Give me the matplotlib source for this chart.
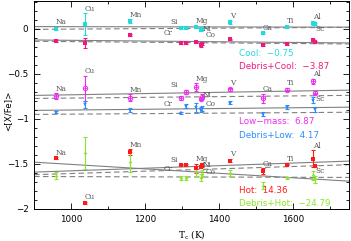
import numpy as np
import matplotlib
matplotlib.use('Agg')
import matplotlib.pyplot as plt
from matplotlib.ticker import MultipleLocator, FuncFormatter

# condensation temperatures (K) and element names
elements = ['Na', 'Cu', 'Mn', 'Cr', 'Si', 'Mg', 'Co', 'Ni', 'V', 'Ca', 'Ti', 'Al', 'Sc']
tc = [958, 1037, 1158, 1296, 1310, 1336, 1352, 1353, 1429, 1517, 1582, 1653, 1659]

cool = [0.00, 0.05, 0.085, 0.01, 0.01, 0.02, -0.02, 0.00, 0.07, -0.05, 0.02, 0.06, 0.05]
cool_err = [0.02, 0.12, 0.02, 0.01, 0.01, 0.01, 0.01, 0.01, 0.02, 0.01, 0.01, 0.02, 0.01]
debris_cool = [-0.137, -0.16, -0.07, -0.16, -0.155, -0.15, -0.18, -0.17, -0.12, -0.185, -0.17, -0.125, -0.15]
debris_cool_err = [0.01, 0.06, 0.01, 0.01, 0.01, 0.01, 0.02, 0.01, 0.01, 0.01, 0.01, 0.01, 0.01]

low = [-0.748, -0.663, -0.767, -0.77, -0.70, -0.648, -0.775, -0.755, -0.673, -0.773, -0.677, -0.585, -0.71]
low_err = [0.03, 0.14, 0.04, 0.02, 0.02, 0.04, 0.02, 0.03, 0.02, 0.05, 0.02, 0.03, 0.02]
debris_low = [-0.925, -0.84, -0.903, -0.933, -0.86, -0.87, -0.90, -0.885, -0.82, -0.944, -0.87, -0.79, -0.895]
debris_low_err = [0.01, 0.04, 0.02, 0.01, 0.02, 0.05, 0.03, 0.03, 0.02, 0.02, 0.02, 0.03, 0.03]

hot = [-1.437, -1.93, -1.367, -1.507, -1.515, -1.546, -1.53, -1.518, -1.463, -1.58, -1.507, -1.445, -1.526]
hot_err = [0.01, 0.01, 0.03, 0.01, 0.01, 0.05, 0.01, 0.02, 0.02, 0.03, 0.01, 0.095, 0.01]
debris_hot = [-1.63, -1.378, -1.478, -1.66, -1.655, -1.59, -1.655, -1.61, -1.60, -1.74, -1.655, -1.625, -1.67]
debris_hot_err = [0.04, 0.18, 0.11, 0.02, 0.02, 0.04, 0.04, 0.04, 0.03, 0.04, 0.01, 0.05, 0.04]

# fitted trends: value at 1300 K, slope in 1e-5 dex/K
fits_solid = [(0.02, -0.75), (-0.141, -3.87), (-0.713, 6.87), (-0.89, 4.17), (-1.534, 14.36), (-1.58, -24.79)]
fits_dashed = [(0.003, 2.6), (-0.154, -3.5), (-0.758, 4.0), (-0.94, 2.8), (-1.568, 13.0), (-1.645, -1.2)]

legend_names = ['Cool', 'Debris+Cool', 'Low\u2212mass', 'Debris+Low', 'Hot', 'Debris+Hot']
legend_slopes = [-0.75, -3.87, 6.87, 4.17, 14.36, -24.79]

colors = ['#1fdcdc', '#f0187c', '#ee2cee', '#2a8cff', '#ff1a1a', '#8ce628']
below = ['Cr', 'Co', 'Sc']
left_side = ['Cr', 'Si']

fig = plt.figure(figsize=(3.51, 2.41), dpi=100)
ax = fig.add_axes([0.097, 0.133, 0.897, 0.864])

series = [(cool, cool_err), (debris_cool, debris_cool_err), (low, low_err),
          (debris_low, debris_low_err), (hot, hot_err), (debris_hot, debris_hot_err)]
tc_arr = np.array(tc)
tline = np.array([900, 1750])

for (a, s) in fits_solid:
    ax.plot(tline, a + s * 1e-5 * (tline - 1300), color='#808080', lw=0.8, zorder=1)
for (a, s) in fits_dashed:
    ax.plot(tline, a + s * 1e-5 * (tline - 1300), color='#808080', lw=0.8, ls=(0, (5, 3)), zorder=1)

for i, (vals, errs) in enumerate(series):
    c = colors[i]
    kw = dict(fmt='none', ecolor=c, elinewidth=0.8, capsize=1.5, capthick=0.8, zorder=3)
    ax.errorbar(tc_arr, vals, yerr=errs, **kw)
    if i == 2:
        ax.plot(tc_arr, vals, 'o', ms=3.2, mfc='none', mec=c, mew=0.7, zorder=4)
        ax.plot(tc_arr, vals, '+', ms=3.2, color=c, mew=0.6, zorder=4)
    elif i == 3:
        ax.plot(tc_arr, vals, '*', ms=3.6, color=c, mew=0, zorder=4)
    elif i == 5:
        ax.plot(tc_arr, vals, 'D', ms=1.8, color=c, mew=0, zorder=4)
    else:
        ax.plot(tc_arr, vals, 's', ms=2.4, color=c, mew=0, zorder=4)

# element labels for each group, relative to the upper series
for vals, errs in [(cool, cool_err), (low, low_err), (hot, hot_err)]:
    for el, t, v, e in zip(elements, tc, vals, errs):
        if el in below:
            y = v - e - 0.045
        else:
            y = v + e + 0.05
        if el in left_side:
            x, ha = t - 22, 'right'
        elif el == 'Co':
            x, ha = t + 10, 'left'
        elif el == 'Ni':
            x, y, ha = t + 2, y - 0.06, 'left'
        else:
            x, ha = t, 'left'
        ax.text(x, y, el, fontsize=5.3, family='DejaVu Serif', color='#555555',
                ha=ha, va='center', zorder=5)

legend_y = [-0.278, -0.422, -1.034, -1.181, -1.79, -1.94]
for name, s, c, y in zip(legend_names, legend_slopes, colors, legend_y):
    txt = '%s:  %s' % (name, ('%.2f' % s).replace('-', '\u2212'))
    ax.text(1452, y, txt, color=c, fontsize=6.3, va='center', ha='left', zorder=5)

ax.set_xlim(900, 1750)
ax.set_ylim(-2, 0.31)
ax.xaxis.set_major_locator(MultipleLocator(200))
ax.xaxis.set_minor_locator(MultipleLocator(100))
ax.yaxis.set_major_locator(MultipleLocator(0.5))
ax.yaxis.set_minor_locator(MultipleLocator(0.1))
ax.yaxis.set_major_formatter(FuncFormatter(lambda v, p: ('%g' % v).replace('-', '\u2212')))
ax.tick_params(which='both', direction='in', top=True, right=True, labelsize=6.3, width=0.6)
ax.tick_params(which='major', length=4, pad=4)
ax.tick_params(which='minor', length=2)
for sp in ax.spines.values():
    sp.set_linewidth(0.7)

ax.set_xlabel('T$_\\mathrm{c}$ (K)', fontsize=6.5, family='DejaVu Serif', labelpad=3)
ax.set_ylabel('<[X/Fe]>', fontsize=6.3)
ax.yaxis.set_label_coords(-0.07, 0.47)

fig.savefig('out.png', dpi=100)
